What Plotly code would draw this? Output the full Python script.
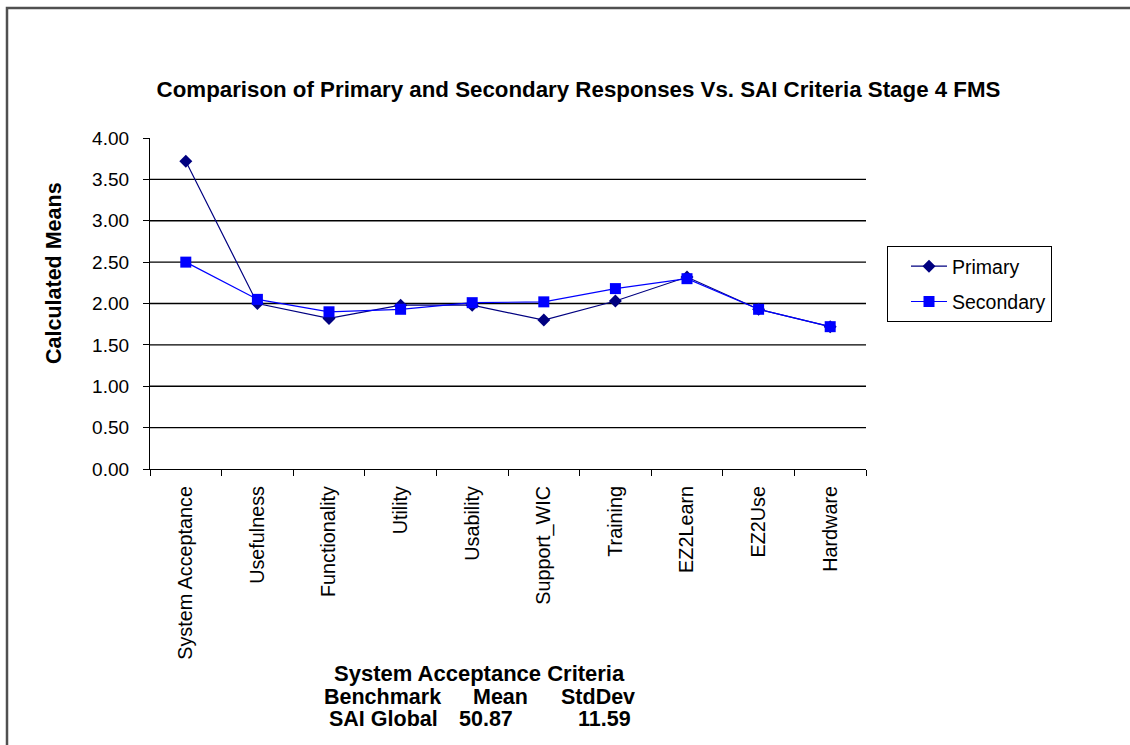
import plotly.graph_objects as go

categories = ["System Acceptance", "Usefulness", "Functionality", "Utility", "Usability",
              "Support_WIC", "Training", "EZ2Learn", "EZ2Use", "Hardware"]
primary = [3.72, 2.00, 1.82, 1.98, 1.98, 1.80, 2.03, 2.32, 1.93, 1.72]
secondary = [2.50, 2.05, 1.90, 1.93, 2.01, 2.02, 2.18, 2.30, 1.93, 1.72]
y_ticks = [0.0, 0.5, 1.0, 1.5, 2.0, 2.5, 3.0, 3.5, 4.0]
grid_vals = [0.5, 1.0, 1.5, 2.0, 2.5, 3.0, 3.5]

W, H = 1130, 745
L, R, T, B = 150, 866, 138, 469
FONT = "Liberation Sans, Arial, sans-serif"

def px_x(x):
    return (x - L) / (R - L)

def px_y(y):
    return (B - y) / (B - T)

fig = go.Figure()
fig.add_trace(go.Scatter(
    x=categories, y=primary, name="Primary", mode="lines+markers", legendgroup="p",
    line=dict(color="#000080", width=1.2),
    marker=dict(symbol="diamond", size=10, color="#000080"),
))
fig.add_trace(go.Scatter(
    x=categories, y=secondary, name="Secondary", mode="lines+markers", legendgroup="s",
    line=dict(color="#0000FF", width=1.2),
    marker=dict(symbol="square", size=11, color="#0000FF"),
))

shapes = []
for g in grid_vals:
    shapes.append(dict(type="line", xref="paper", yref="y", x0=0, x1=1, y0=g, y1=g,
                       line=dict(color="black", width=1.3), layer="below"))
# outer chart border
shapes.append(dict(type="rect", xref="paper", yref="paper",
                   x0=px_x(7), x1=px_x(1140), y0=px_y(760), y1=px_y(8),
                   line=dict(color="#505050", width=2.5), layer="below"))

annotations = [
    dict(text="<b>Calculated Means</b>", xref="paper", yref="paper", x=px_x(54), y=px_y(273),
         xanchor="center", yanchor="middle", textangle=-90, showarrow=False,
         font=dict(family=FONT, size=21.5, color="black")),
    dict(text="<b>System Acceptance Criteria</b>", xref="paper", yref="paper",
         x=px_x(479), y=px_y(673), xanchor="center", yanchor="middle", showarrow=False,
         font=dict(family=FONT, size=22, color="black")),
]
rows = [("Benchmark", 382, 697), ("Mean", 500, 697), ("StdDev", 598, 697),
        ("SAI Global", 383, 719), ("50.87", 486, 719), ("11.59", 604, 719)]
for txt, cx, cy in rows:
    annotations.append(dict(text=f"<b>{txt}</b>", xref="paper", yref="paper",
                            x=px_x(cx), y=px_y(cy), xanchor="center", yanchor="middle",
                            showarrow=False, font=dict(family=FONT, size=21.5, color="black")))

fig.update_layout(
    width=W, height=H,
    margin=dict(l=L, r=W - R, t=T, b=H - B, pad=0),
    paper_bgcolor="white", plot_bgcolor="white",
    font=dict(family=FONT, color="black"),
    title=dict(text="<b>Comparison of Primary and Secondary Responses Vs. SAI Criteria Stage 4 FMS</b>",
               x=578.5 / W, xanchor="center", xref="container",
               y=1 - 89 / H, yanchor="middle", yref="container",
               font=dict(family=FONT, size=22.3, color="black")),
    showlegend=True,
    legend=dict(x=px_x(887), y=px_y(246), xanchor="left", yanchor="top",
                bordercolor="black", borderwidth=1, bgcolor="white",
                font=dict(family=FONT, size=19.5, color="black"),
                itemwidth=36, indentation=18, traceorder="grouped", tracegroupgap=7),
    shapes=shapes,
    annotations=annotations,
)
fig.update_xaxes(
    type="category", tickangle=-90, tickson="boundaries",
    ticks="outside", ticklen=6, tickcolor="black", tickwidth=1.2,
    showline=True, linecolor="black", linewidth=1.2, showgrid=False,
    tickfont=dict(family=FONT, size=19.8, color="black"),
    ticklabelstandoff=8,
    range=[-0.5, len(categories) - 0.5],
)
fig.update_yaxes(
    range=[0, 4], tickvals=y_ticks, ticktext=[f"{v:.2f}" for v in y_ticks],
    ticks="outside", ticklen=6, tickcolor="black", tickwidth=1.2,
    showline=True, linecolor="black", linewidth=1.2, showgrid=False, zeroline=False,
    tickfont=dict(family=FONT, size=19, color="black"),
    ticklabelstandoff=10,
)

fig.write_html("out.html")
